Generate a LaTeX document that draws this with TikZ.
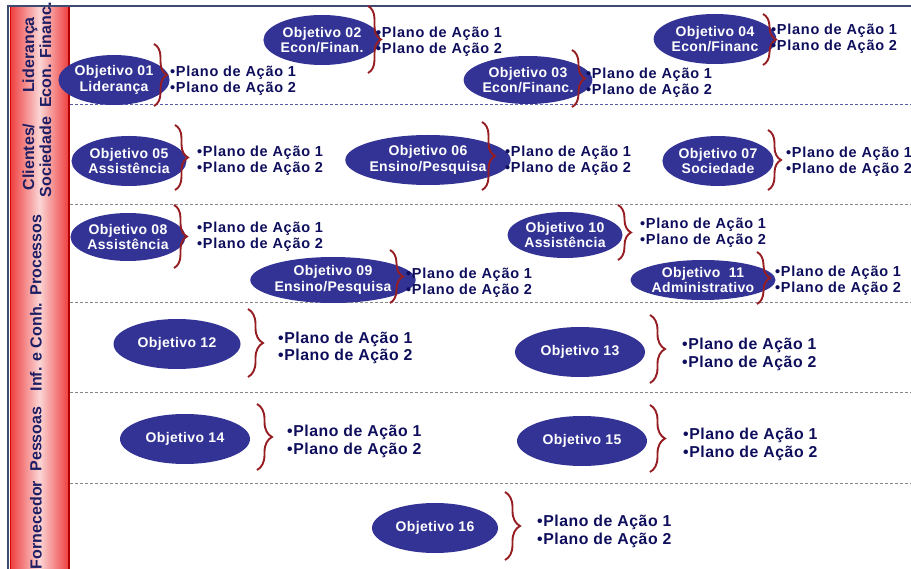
\documentclass[tikz,border=0pt]{standalone}
\usepackage{fontspec}
\setmainfont{Liberation Sans}
\usetikzlibrary{shapes, decorations.pathreplacing, positioning}
\definecolor{objblue}{RGB}{51, 51, 150}
\definecolor{planblue}{RGB}{14, 14, 92}
\definecolor{bracered}{RGB}{150, 30, 35}
\definecolor{framenavy}{RGB}{62, 74, 112}
\definecolor{stripred}{RGB}{238, 62, 62}
\definecolor{stripnavy}{RGB}{30, 30, 100}
\definecolor{sepgray}{RGB}{135, 135, 135}
\definecolor{sepblue}{RGB}{90, 90, 170}

\begin{document}
\begin{tikzpicture}[x=1pt, y=-1pt,
  obj/.style={ellipse, fill=objblue, text=white, inner sep=0pt, minimum width=98, minimum height=48, align=center,
    font=\fontsize{14}{15.5}\bfseries\addfontfeature{LetterSpace=2.5}},
  plano/.style={anchor=west, inner sep=0pt, align=left, text=planblue, yshift=-1.5pt,
    font=\fontsize{14.5}{16}\bfseries\addfontfeature{LetterSpace=5}},
  planog/.style={plano, font=\fontsize{15.8}{17.5}\bfseries\addfontfeature{LetterSpace=3.5}},
  chave/.style={draw=bracered, line width=1.9pt, decorate, decoration={brace, amplitude=13pt}},
  chaveg/.style={chave, decoration={brace, amplitude=15pt}},
  faixa/.style={rotate=90, align=center, text=stripnavy, inner sep=0pt, font=\fontsize{16}{17}\bfseries},
  sep/.style={dash pattern=on 3pt off 2pt, line width=1pt}
]
  \useasboundingbox (0,0) rectangle (911,569);

  \fill[left color=stripred, right color=stripred, middle color=stripred!22] (10,6) rectangle (69,572);
  \draw[red!85!black, line width=1pt] (10,572) -- (10,6.5) -- (69,6.5);
  \draw[red!70!black, line width=2.5pt] (69,6) -- (69,572);
  \draw[framenavy, line width=1.6pt] (8,572) -- (8,6) -- (911,6);

  \draw[sep, sepblue] (70,105) -- (911,105);
  \draw[sep, sepgray] (70,205) -- (911,205);
  \draw[sep, sepgray] (70,303) -- (911,303);
  \draw[sep, sepgray] (70,393) -- (911,393);
  \draw[sep, sepgray] (70,483) -- (911,483);

  \node[faixa] (f1) at (37,55) {Liderança\\Econ. Financ.};
  \node[faixa] (f2) at (37,157) {Clientes/\\Sociedade};
  \node[faixa] (f3) at (36,255) {Processos};
  \node[faixa] (f4) at (36,347) {Inf. e Conh.};
  \node[faixa] (f5) at (36,439) {Pessoas};
  \node[faixa] (f6) at (36,525) {Fornecedor};

  \node[obj, minimum width=94, minimum height=50] (ob1) at (114,80) {Objetivo 01\\Liderança};
  \draw[chave] (154,44) -- (154,106);
  \node[plano] (pl1) at (170,79) {•Plano de Ação 1\\•Plano de Ação 2};

  \node[obj, minimum width=100, minimum height=50] (ob2) at (322,40) {Objetivo 02\\Econ/Finan.};
  \draw[chave] (368,6) -- (368,73);
  \node[plano] (pl2) at (376,40) {•Plano de Ação 1\\•Plano de Ação 2};

  \node[obj] (ob3) at (528,80) {Objetivo 03\\Econ/Financ.};
  \draw[chave] (572,50) -- (572,107);
  \node[plano] (pl3) at (586,81.5) {•Plano de Ação 1\\•Plano de Ação 2};

  \node[obj, minimum width=97, minimum height=50] (ob4) at (715,39) {Objetivo 04\\Econ/Financ};
  \draw[chave] (763,14) -- (763,65);
  \node[plano] (pl4) at (771,37) {•Plano de Ação 1\\•Plano de Ação 2};

  \node[obj, minimum height=50] (ob5) at (129,161) {Objetivo 05\\Assistência};
  \draw[chave] (175,125) -- (175,190);
  \node[plano] (pl5) at (197,159.5) {•Plano de Ação 1\\•Plano de Ação 2};

  \node[obj, minimum width=128, minimum height=50] (ob6) at (428,160) {Objetivo 06\\Ensino/Pesquisa};
  \draw[chave] (482,122) -- (482,190);
  \node[plano] (pl6) at (505,159.5) {•Plano de Ação 1\\•Plano de Ação 2};

  \node[obj, minimum width=106, minimum height=50] (ob7) at (718,161) {Objetivo 07\\Sociedade};
  \draw[chave] (768,130) -- (768,190);
  \node[plano] (pl7) at (786,160.5) {•Plano de Ação 1\\•Plano de Ação 2};

  \node[obj, minimum width=104] (ob8) at (128,237) {Objetivo 08\\Assistência};
  \draw[chave] (174,205) -- (174,268);
  \node[plano] (pl8) at (197,235) {•Plano de Ação 1\\•Plano de Ação 2};

  \node[obj, minimum width=112, minimum height=46] (ob9) at (333,280) {Objetivo 09\\Ensino/Pesquisa};
  \draw[chave] (390,250) -- (390,303);
  \node[plano] (pl9) at (406,281.5) {•Plano de Ação 1\\•Plano de Ação 2};

  \node[obj, minimum width=110, minimum height=46] (ob10) at (565,235) {Objetivo 10\\Assistência};
  \draw[chave] (618,205) -- (618,260);
  \node[plano] (pl10) at (640,231) {•Plano de Ação 1\\•Plano de Ação 2};

  \node[obj, minimum width=118, minimum height=40] (ob11) at (703,280) {Objetivo~ 11\\Administrativo};
  \draw[chave] (757,252) -- (757,304);
  \node[plano] (pl11) at (775,279) {•Plano de Ação 1\\•Plano de Ação 2};

  \node[obj, minimum width=127, minimum height=50] (ob12) at (177,344) {Objetivo 12};
  \draw[chaveg] (248,309) -- (248,377);
  \node[planog] (pl12) at (278,346.5) {•Plano de Ação 1\\•Plano de Ação 2};

  \node[obj, minimum width=130, minimum height=50] (ob13) at (580,352) {Objetivo 13};
  \draw[chaveg] (650,315) -- (650,383);
  \node[planog] (pl13) at (682,353) {•Plano de Ação 1\\•Plano de Ação 2};

  \node[obj, minimum width=130, minimum height=50] (ob14) at (185,439) {Objetivo 14};
  \draw[chaveg] (257,404) -- (257,470);
  \node[planog] (pl14) at (287,440) {•Plano de Ação 1\\•Plano de Ação 2};

  \node[obj, minimum width=130, minimum height=50] (ob15) at (582,441) {Objetivo 15};
  \draw[chaveg] (650,405) -- (650,472);
  \node[planog] (pl15) at (683,443) {•Plano de Ação 1\\•Plano de Ação 2};

  \node[obj, minimum width=126, minimum height=50] (ob16) at (435,528) {Objetivo 16};
  \draw[chaveg] (505,492) -- (505,560);
  \node[planog] (pl16) at (537,530) {•Plano de Ação 1\\•Plano de Ação 2};
\end{tikzpicture}
\end{document}
